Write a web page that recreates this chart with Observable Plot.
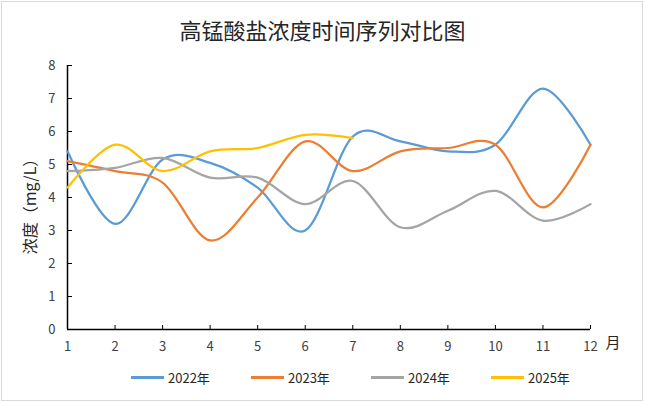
<!DOCTYPE html>
<html>
<head>
<meta charset="utf-8">
<script src="https://cdn.jsdelivr.net/npm/d3@7"></script>
<script src="https://cdn.jsdelivr.net/npm/@observablehq/plot@0.6"></script>
<style>
  html, body { margin: 0; padding: 0; background: #fff; }
  body { width: 645px; height: 403px; position: relative; overflow: hidden;
         font-family: "Noto Sans CJK SC", "Noto Sans", sans-serif; }
  #frame { position: absolute; left: 1px; top: 1px; width: 640px; height: 398px;
           border: 1px solid #d9d9d9; }
  #title { position: absolute; left: 0; top: 14px; width: 645px; text-align: center;
           font-size: 22px; color: #262626; line-height: 30px; }
  #chart { position: absolute; left: 0; top: 45px; }
  #legend { position: absolute; left: 131px; top: 366px; display: flex; }
  .item { width: 120px; display: flex; align-items: center; font-size: 13px; color: #262626; height: 22px; }
  .sw { width: 33px; height: 3px; margin-right: 4px; }
</style>
</head>
<body>
<div id="frame"></div>
<div id="title"></div>
<div id="chart"></div>
<div id="legend"></div>
<script>
const titleText = "高锰酸盐浓度时间序列对比图";
const yLabel = "浓度（mg/L）";
const xUnit = "月";
const months = [1, 2, 3, 4, 5, 6, 7, 8, 9, 10, 11, 12];
const yTicks = [0, 1, 2, 3, 4, 5, 6, 7, 8];
const seriesNames = ["2022年", "2023年", "2024年", "2025年"];
const seriesColors = ["#5B9BD5", "#ED7D31", "#A5A5A5", "#FFC000"];
const v2022 = [5.4, 3.2, 5.15, 5.05, 4.3, 3.0, 5.85, 5.7, 5.4, 5.6, 7.3, 5.6];
const v2023 = [5.1, 4.8, 4.45, 2.7, 4.0, 5.7, 4.8, 5.4, 5.5, 5.6, 3.7, 5.6];
const v2024 = [4.8, 4.9, 5.2, 4.6, 4.6, 3.8, 4.5, 3.1, 3.6, 4.2, 3.3, 3.8];
const v2025 = [4.3, 5.6, 4.8, 5.4, 5.5, 5.9, 5.8];

const allValues = [v2022, v2023, v2024, v2025];
const data = [];
allValues.forEach((vals, i) => {
  vals.forEach((v, j) => data.push({series: seriesNames[i], month: months[j], value: v}));
});

document.getElementById("title").textContent = titleText;

const chart = Plot.plot({
  width: 645,
  height: 320,
  marginLeft: 67,
  marginRight: 55,
  marginTop: 20,
  marginBottom: 36,
  style: {fontFamily: '"Noto Sans CJK SC", "Noto Sans", sans-serif', fontSize: "13px", color: "#404040", background: "transparent"},
  x: {domain: [1, 12]},
  y: {domain: [0, 8]},
  color: {domain: seriesNames, range: seriesColors},
  marks: [
    Plot.axisY(yTicks, {tickSize: -5, tickPadding: 17, label: null, fontSize: 13, stroke: "#000"}),
    Plot.axisX(months, {tickSize: -4, tickPadding: 16, label: null, fontSize: 13, tickFormat: d => String(d), stroke: "#000"}),
    Plot.ruleY([0], {stroke: "#000", strokeWidth: 1.5}),
    Plot.ruleX([1], {stroke: "#000", strokeWidth: 1.5}),
    Plot.line(data, {x: "month", y: "value", z: "series", stroke: "series", strokeWidth: 2.25, curve: "cardinal"}),
    Plot.text([yLabel], {frameAnchor: "left", textAnchor: "middle", rotate: -90, dx: -37, dy: 5, fontSize: 16, fill: "#262626"}),
    Plot.text([xUnit], {frameAnchor: "bottom-right", dx: 30, dy: 18, fontSize: 15, fill: "#262626"})
  ]
});
document.getElementById("chart").appendChild(chart);

const legend = document.getElementById("legend");
seriesNames.forEach((name, i) => {
  const item = document.createElement("div");
  item.className = "item";
  const sw = document.createElement("div");
  sw.className = "sw";
  sw.style.background = seriesColors[i];
  const t = document.createElement("span");
  t.textContent = name;
  item.appendChild(sw);
  item.appendChild(t);
  legend.appendChild(item);
});
</script>
</body>
</html>
